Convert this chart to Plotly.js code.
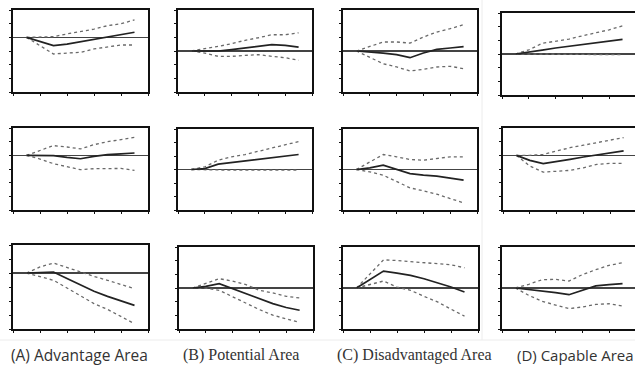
<!DOCTYPE html>
<html><head><meta charset="utf-8">
<script src="https://cdn.plot.ly/plotly-3.0.1.min.js"></script>
<style>html,body{margin:0;padding:0;background:#fff}#chart{width:635px;height:367px}</style>
</head><body><div id="chart"></div>
<script>
const periods = [1,2,3,4,5,6,7,8,9];
const xTickVals = [0,2,4,6,8,10];
const areaLabels = ["(A) Advantage Area","(B) Potential Area","(C) Disadvantaged Area","(D) Capable Area"];

const A1_upper=[0,0,0.05,0.25,0.4,0.6,0.85,1.0,1.27];
const A1_mid=[0,-0.3,-0.6,-0.5,-0.32,-0.12,0.05,0.2,0.37];
const A1_lower=[0,-0.6,-1.22,-1.15,-1.1,-0.85,-0.68,-0.56,-0.56];

const B1_upper=[0,0.15,0.34,0.53,0.78,0.97,1.19,1.19,1.33];
const B1_mid=[0,0,0,0.1,0.22,0.36,0.46,0.41,0.29];
const B1_lower=[0,-0.15,-0.39,-0.39,-0.32,-0.27,-0.39,-0.49,-0.68];

const C1_upper=[0,0.34,0.66,0.66,0.58,1.02,1.39,1.63,1.93];
const C1_mid=[0,-0.07,-0.15,-0.27,-0.49,-0.15,0.12,0.22,0.32];
const C1_lower=[0,-0.44,-0.93,-1.17,-1.46,-1.34,-1.17,-1.12,-1.29];

const D1_upper=[0,0.3,0.78,0.92,1.09,1.33,1.55,1.77,2.06];
const D1_mid=[0,0.12,0.29,0.44,0.56,0.68,0.8,0.95,1.07];
const D1_lower=[0,0,-0.04,-0.05,-0.05,-0.04,-0.04,-0.05,-0.05];

const A2_upper=[0,0.37,0.71,0.61,0.47,0.78,1.0,1.15,1.32];
const A2_mid=[0,0,-0.02,-0.15,-0.25,-0.07,0.05,0.1,0.17];
const A2_lower=[0,-0.27,-0.61,-0.81,-1.05,-0.98,-0.96,-0.96,-1.1];

const B2_upper=[0,0.2,0.69,0.94,1.11,1.36,1.6,1.83,2.07];
const B2_mid=[0,0.07,0.4,0.52,0.62,0.74,0.86,0.99,1.11];
const B2_lower=[0,-0.03,-0.05,-0.05,-0.05,-0.05,-0.05,-0.05,-0.05];

const C2_upper=[0,0.57,1.11,0.94,0.74,0.69,0.81,0.94,0.94];
const C2_mid=[0,0.12,0.32,0.02,-0.3,-0.42,-0.49,-0.64,-0.79];
const C2_lower=[0,-0.17,-0.42,-0.91,-1.36,-1.58,-1.83,-2.15,-2.47];

const D2_upper=[0,0,0.07,0.32,0.56,0.74,0.93,1.1,1.3];
const D2_mid=[0,-0.37,-0.61,-0.47,-0.29,-0.12,0.02,0.17,0.32];
const D2_lower=[0,-0.78,-1.23,-1.15,-1.1,-0.91,-0.66,-0.59,-0.59];

const A3_upper=[0,0.43,0.71,0.38,0.07,-0.24,-0.52,-0.83,-1.12];
const A3_mid=[0,0.02,0.07,-0.4,-0.88,-1.31,-1.67,-1.98,-2.31];
const A3_lower=[0,-0.24,-0.52,-1.07,-1.64,-2.19,-2.6,-3.1,-3.62];

const B3_upper=[0,0.32,0.68,0.51,0.24,-0.17,-0.36,-0.61,-0.73];
const B3_mid=[0,0.12,0.32,-0.05,-0.41,-0.78,-1.14,-1.43,-1.63];
const B3_lower=[0,0,-0.17,-0.66,-1.14,-1.58,-1.99,-2.23,-2.52];

const C3_upper=[0,1.04,2.06,2.01,1.94,1.84,1.77,1.7,1.48];
const C3_mid=[0,0.61,1.24,1.09,0.92,0.68,0.39,0.07,-0.29];
const C3_lower=[0,0.24,0.51,0.07,-0.17,-0.61,-1.02,-1.55,-2.06];

const D3_upper=[0,0.27,0.61,0.63,0.51,0.98,1.34,1.66,1.85];
const D3_mid=[0,-0.1,-0.22,-0.34,-0.49,-0.17,0.15,0.24,0.32];
const D3_lower=[0,-0.54,-0.98,-1.27,-1.51,-1.39,-1.2,-1.15,-1.32];

const W = 635, H = 367;
// panel boxes in px: [left, right, top, bottom], y range, right border
const panels = [
  {up:A1_upper, mid:A1_mid, lo:A1_lower, box:[13,148,10,92],  yr:[-4,2], rb:true},
  {up:B1_upper, mid:B1_mid, lo:B1_lower, box:[178,312,10,92], yr:[-3,3], rb:true},
  {up:C1_upper, mid:C1_mid, lo:C1_lower, box:[343,477,10,92], yr:[-3,3], rb:true},
  {up:D1_upper, mid:D1_mid, lo:D1_lower, box:[502,635,13,95], yr:[-3,3], rb:false, xr:[0,9.93]},
  {up:A2_upper, mid:A2_mid, lo:A2_lower, box:[13,148,128,210], yr:[-4,2], rb:true},
  {up:B2_upper, mid:B2_mid, lo:B2_lower, box:[178,312,129,210], yr:[-3,3], rb:true},
  {up:C2_upper, mid:C2_mid, lo:C2_lower, box:[343,477,129,210], yr:[-3,3], rb:true},
  {up:D2_upper, mid:D2_mid, lo:D2_lower, box:[503,635,128,210], yr:[-4,2], rb:false, xr:[0,9.85]},
  {up:A3_upper, mid:A3_mid, lo:A3_lower, box:[13,148,245,329], yr:[-4,2], rb:true},
  {up:B3_upper, mid:B3_mid, lo:B3_lower, box:[179,313,247,329], yr:[-3,3], rb:true},
  {up:C3_upper, mid:C3_mid, lo:C3_lower, box:[343,478,247,329], yr:[-3,3], rb:true},
  {up:D3_upper, mid:D3_mid, lo:D3_lower, box:[502,635,247,329], yr:[-3,3], rb:false, xr:[0,9.93]}
];

const data = [];
const layout = {
  width: W, height: H,
  margin: {l:0, r:0, t:0, b:0},
  paper_bgcolor: '#fff', plot_bgcolor: '#fff',
  showlegend: false,
  annotations: [],
  shapes: []
};

panels.forEach((p, i) => {
  const n = i + 1;
  const xa = 'x' + (n === 1 ? '' : n), ya = 'y' + (n === 1 ? '' : n);
  const xk = 'xaxis' + (n === 1 ? '' : n), yk = 'yaxis' + (n === 1 ? '' : n);
  const [l, r, t, b] = p.box;
  layout[xk] = {
    domain: [l / W, Math.min(r / W, 1)], anchor: ya,
    range: p.xr || [0, 10], tickvals: xTickVals, showticklabels: false,
    ticks: 'outside', ticklen: 2, tickwidth: 1, tickcolor: '#111',
    showline: true, linecolor: '#111', linewidth: 1.6, mirror: true,
    showgrid: false, zeroline: false, fixedrange: true
  };
  layout[yk] = {
    domain: [1 - b / H, 1 - t / H], anchor: xa,
    range: p.yr, dtick: 1, tick0: 0, showticklabels: false,
    ticks: 'outside', ticklen: 2, tickwidth: 1, tickcolor: '#111',
    showline: true, linecolor: '#111', linewidth: 1.6, mirror: p.rb,
    showgrid: false, zeroline: true, zerolinecolor: '#444', zerolinewidth: 1.6,
    fixedrange: true
  };
  data.push({x: periods, y: p.up, xaxis: xa, yaxis: ya, mode: 'lines',
    line: {color: '#6a6a6a', width: 1.3, dash: 'dot'}, hoverinfo: 'skip'});
  data.push({x: periods, y: p.lo, xaxis: xa, yaxis: ya, mode: 'lines',
    line: {color: '#6a6a6a', width: 1.3, dash: 'dot'}, hoverinfo: 'skip'});
  data.push({x: periods, y: p.mid, xaxis: xa, yaxis: ya, mode: 'lines',
    line: {color: '#222', width: 1.7}, hoverinfo: 'skip'});
});

const labelX = [79, 241, 415, 575];
const labelFonts = ['"Open Sans", "Noto Sans", sans-serif', '"Liberation Serif", serif', '"Liberation Serif", serif', '"Open Sans", "Noto Sans", sans-serif'];
const labelSizes = [15.5, 16, 16, 15];
areaLabels.forEach((txt, j) => {
  layout.annotations.push({
    text: txt, xref: 'paper', yref: 'paper',
    x: labelX[j] / W, y: 1 - 355 / H, xanchor: 'center', yanchor: 'middle',
    showarrow: false, font: {family: labelFonts[j], size: labelSizes[j], color: '#333'}
  });
});

// faint image separators
layout.shapes.push({type:'line', xref:'paper', yref:'paper', x0:0, x1:1, y0:1-340/H, y1:1-340/H, line:{color:'#ececec', width:1}});
layout.shapes.push({type:'line', xref:'paper', yref:'paper', x0:482/W, x1:482/W, y0:1-340/H, y1:1, line:{color:'#ececec', width:1}});

Plotly.newPlot('chart', data, layout, {staticPlot: true, displayModeBar: false});
</script></body></html>
